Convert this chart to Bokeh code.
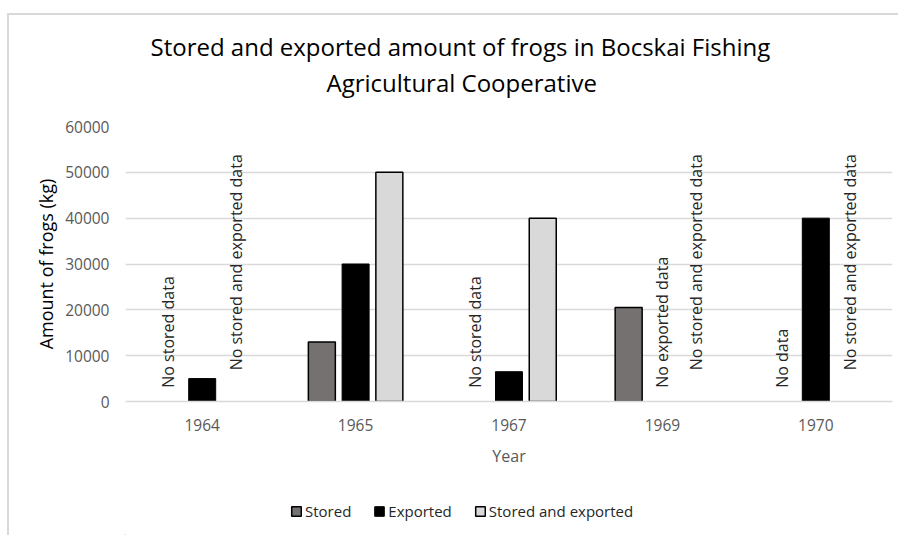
import math
from bokeh.plotting import figure
from bokeh.layouts import column
from bokeh.models import (ColumnDataSource, FactorRange, Range1d, Legend, LegendItem,
                          FixedTicker, BasicTickFormatter, Title)
from bokeh.transform import dodge
from bokeh.core.properties import value
from bokeh.embed import file_html
from bokeh.resources import INLINE

# ---- data ----
years = ["1964", "1965", "1967", "1969", "1970"]
stored = [None, 13000, None, 20500, None]
exported = [5000, 30000, 6500, None, 40000]
stored_exported = [None, 50000, 40000, None, None]

# notes shown in place of missing bars
stored_note_years = ["1964", "1967", "1970"]
stored_note_texts = ["No stored data", "No stored data", "No data"]
exported_note_years = ["1969"]
exported_note_texts = ["No exported data"]
both_note_years = ["1964", "1969", "1970"]
both_note_texts = ["No stored and exported data"] * 3

y_ticks = [0, 10000, 20000, 30000, 40000, 50000, 60000]

title_line1 = "Stored and exported amount of frogs in Bocskai Fishing"
title_line2 = "Agricultural Cooperative"
series_labels = ["Stored", "Exported", "Stored and exported"]

FONT = "Open Sans"
OFFS = {"stored": -0.22, "exported": 0.0, "both": 0.22}
BAR_W = 0.176
STYLE = {
    "stored": dict(fill_color="#767171", line_color="black", line_width=1.5),
    "exported": dict(fill_color="black", line_color="black", line_width=1),
    "both": dict(fill_color="#d9d9d9", line_color="black", line_width=1.5),
}

p = figure(x_range=FactorRange(*years), y_range=Range1d(0, 60000),
           width=889, height=475, output_backend="svg", toolbar_location=None,
           min_border_left=116, min_border_right=6, min_border_top=111,
           min_border_bottom=89)
p.outline_line_color = None
p.background_fill_color = "white"
p.border_fill_color = "white"

def src(vals):
    xs = [y for y, v in zip(years, vals) if v is not None]
    tops = [v for v in vals if v is not None]
    return ColumnDataSource(dict(year=xs, top=tops))

p.vbar(x=dodge("year", OFFS["stored"], range=p.x_range), top="top", width=BAR_W,
       source=src(stored), **STYLE["stored"])
p.vbar(x=dodge("year", OFFS["exported"], range=p.x_range), top="top", width=BAR_W,
       source=src(exported), **STYLE["exported"])
p.vbar(x=dodge("year", OFFS["both"], range=p.x_range), top="top", width=BAR_W,
       source=src(stored_exported), **STYLE["both"])

# notes
def notes(yrs, texts, key, y0):
    s = ColumnDataSource(dict(year=yrs, text=texts, y=[y0] * len(yrs)))
    p.text(x=dodge("year", OFFS[key], range=p.x_range), y="y", text="text", source=s,
           angle=math.pi / 2, text_align="left", text_baseline="middle",
           text_font=value(FONT), text_font_size="16px", text_color="#262626")

notes(stored_note_years, stored_note_texts, "stored", 3000)
notes(exported_note_years, exported_note_texts, "exported", 3000)
notes(both_note_years, both_note_texts, "both", 6800)

# axes
p.yaxis.ticker = FixedTicker(ticks=y_ticks)
p.yaxis.formatter = BasicTickFormatter(use_scientific=False)
for ax in (p.xaxis, p.yaxis):
    ax.major_tick_line_color = None
    ax.minor_tick_line_color = None
    ax.major_label_text_font = FONT
    ax.major_label_text_font_size = "15.5px"
    ax.major_label_text_color = "#595959"
    ax.axis_label_text_font = FONT
    ax.axis_label_text_font_style = "normal"
p.yaxis.axis_line_color = None
p.xaxis.axis_line_color = "#d9d9d9"
p.xaxis.axis_line_width = 1.5
p.yaxis.major_label_standoff = 10
p.xaxis.major_label_standoff = 11
p.xaxis.axis_label = "Year"
p.xaxis.axis_label_text_font_size = "16px"
p.xaxis.axis_label_text_color = "#595959"
p.xaxis.axis_label_standoff = 11
p.yaxis.axis_label = "Amount of frogs (kg)"
p.yaxis.axis_label_text_font_size = "18px"
p.yaxis.axis_label_text_color = "black"
p.yaxis.axis_label_standoff = 4
p.xgrid.grid_line_color = None
p.ygrid.grid_line_color = "#d9d9d9"
p.ygrid.grid_line_width = 1.5

# title: two lines, centred over the whole chart area (spacer nearest the frame)
p.title.text = ""
title_kw = dict(align="left", text_font=FONT, text_font_size="24px",
                text_font_style="normal", text_color="black")
p.add_layout(Title(text=" ", align="center", text_font_size="10px", standoff=14), "above")
p.add_layout(Title(text=title_line2, standoff=1, offset=201, **title_kw), "above")
p.add_layout(Title(text=title_line1, standoff=1, offset=25, **title_kw), "above")

# legend in its own strip below the chart
q = figure(width=889, height=45, output_backend="svg", toolbar_location=None,
           x_range=Range1d(0, 1), y_range=Range1d(0, 1),
           x_axis_location=None, y_axis_location=None, min_border=0)
q.outline_line_color = None
q.xgrid.grid_line_color = None
q.ygrid.grid_line_color = None
items = []
for key, lab in zip(["stored", "exported", "both"], series_labels):
    r = q.vbar(x=[-10], top=[-10], bottom=[-20], width=0.1, **STYLE[key])
    items.append(LegendItem(label=lab, renderers=[r]))
legend = Legend(items=items, orientation="horizontal", location=(165, 14),
                label_text_font=FONT, label_text_font_size="15px", label_text_color="#262626",
                glyph_width=12, glyph_height=12, label_standoff=3, spacing=22,
                border_line_color=None, background_fill_alpha=0, margin=0, padding=4)
q.add_layout(legend, "center")

layout = column(p, q, spacing=0,
                styles={"border-left": "2px solid #d9d9d9", "border-top": "2px solid #d9d9d9",
                        "margin-left": "7px", "margin-top": "13px"})

open("out.html", "w").write(file_html(layout, INLINE))
